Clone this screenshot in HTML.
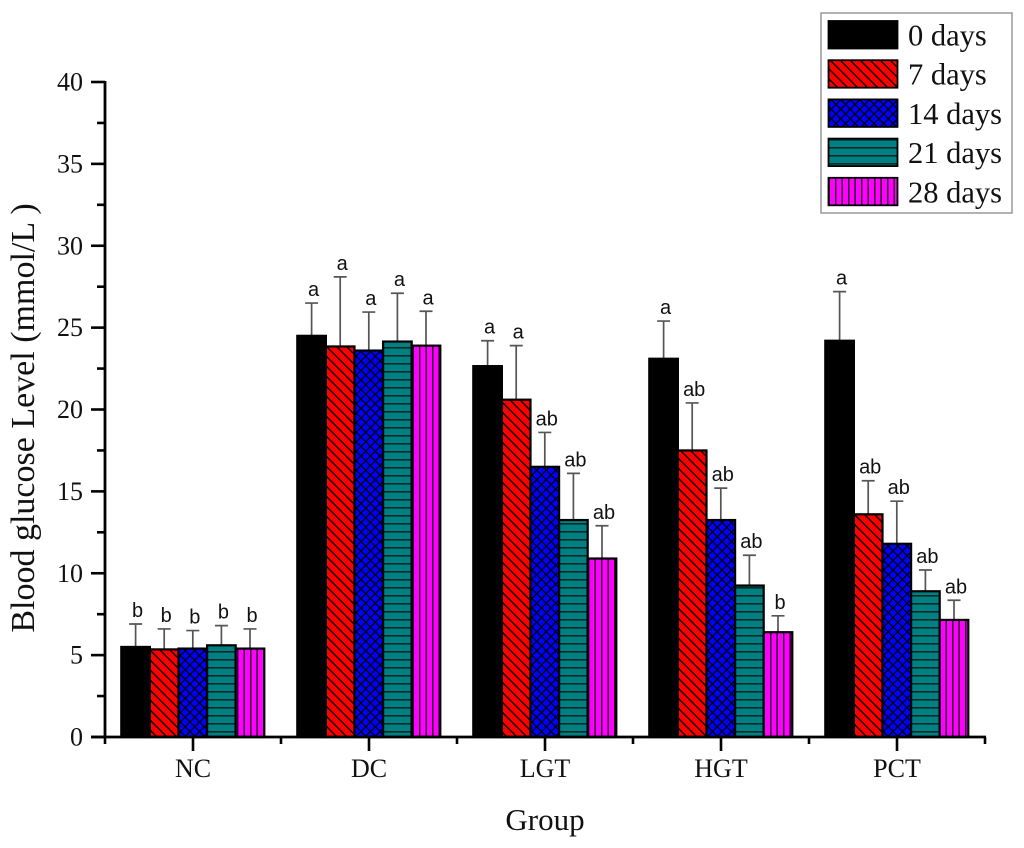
<!DOCTYPE html>
<html>
<head>
<meta charset="utf-8">
<style>
html,body{margin:0;padding:0;background:#fff;}
svg{display:block;}
text{font-family:"Liberation Serif",serif;fill:#111;}
.lab{font-family:"Liberation Sans",sans-serif;font-size:20px;}
</style>
</head>
<body>
<svg id="chart" width="1024" height="848" viewBox="0 0 1024 848" xmlns="http://www.w3.org/2000/svg">
<defs>
<pattern id="p7" patternUnits="userSpaceOnUse" width="10" height="10">
<rect width="10" height="10" fill="#ff0000"/>
<path d="M-2,-2 L12,12 M-2,8 L2,12 M8,-2 L12,2" stroke="#000" stroke-width="1.4"/>
</pattern>
<pattern id="p14" patternUnits="userSpaceOnUse" width="9.5" height="9.5">
<rect width="9.5" height="9.5" fill="#0000ff"/>
<path d="M-2,-2 L11.5,11.5 M-2,7.5 L2,11.5 M7.5,-2 L11.5,2 M11.5,-2 L-2,11.5 M2,-2 L-2,2 M11.5,7.5 L7.5,11.5" stroke="#000" stroke-width="1.3"/>
</pattern>
<pattern id="p21" patternUnits="userSpaceOnUse" width="9" height="8">
<rect width="9" height="8" fill="#008080"/>
<rect y="3" width="9" height="1.6" fill="#06282c"/>
</pattern>
<pattern id="p28" patternUnits="userSpaceOnUse" width="6.5" height="9">
<rect width="6.5" height="9" fill="#ff00ff"/>
<rect x="3" width="1.4" height="9" fill="#1a001a"/>
</pattern>
</defs>
<g id="bars"></g>
<g id="axes"></g>
<g id="legend"></g>
</svg>
<script>
const groups = ['NC', 'DC', 'LGT', 'HGT', 'PCT'];
const seriesNames = ['0 days', '7 days', '14 days', '21 days', '28 days'];
const day0 = [5.5, 24.5, 22.65, 23.1, 24.2];
const day7 = [5.35, 23.85, 20.6, 17.5, 13.6];
const day14 = [5.4, 23.6, 16.5, 13.25, 11.8];
const day21 = [5.6, 24.15, 13.25, 9.25, 8.9];
const day28 = [5.4, 23.9, 10.9, 6.4, 7.15];
const top0 = [6.9, 26.5, 24.2, 25.4, 27.2];
const top7 = [6.6, 28.1, 23.9, 20.4, 15.65];
const top14 = [6.5, 25.95, 18.6, 15.2, 14.4];
const top21 = [6.8, 27.1, 16.1, 11.1, 10.2];
const top28 = [6.6, 26.0, 12.9, 7.4, 8.35];
const letters0 = ['b', 'a', 'a', 'a', 'a'];
const letters7 = ['b', 'a', 'a', 'ab', 'ab'];
const letters14 = ['b', 'a', 'ab', 'ab', 'ab'];
const letters21 = ['b', 'a', 'ab', 'ab', 'ab'];
const letters28 = ['b', 'a', 'ab', 'b', 'ab'];
const yTicks = [0, 5, 10, 15, 20, 25, 30, 35, 40];
const yMinorTicks = [2.5, 7.5, 12.5, 17.5, 22.5, 27.5, 32.5, 37.5];

const values = [day0, day7, day14, day21, day28];
const tops = [top0, top7, top14, top21, top28];
const letters = [letters0, letters7, letters14, letters21, letters28];
const fills = ['#000', 'url(#p7)', 'url(#p14)', 'url(#p21)', 'url(#p28)'];

const NS = 'http://www.w3.org/2000/svg';
const X0 = 105, GROUP_W = 176, BAR_W = 28.6;
const Y0 = 737, PX_PER_UNIT = 16.375;
const yScale = v => Y0 - v * PX_PER_UNIT;
const groupCenter = i => X0 + GROUP_W * (i + 0.5);
const barX = (g, s) => groupCenter(g) - 2.5 * BAR_W + s * BAR_W - 0.2;

function mk(parent, tag, attrs, txt) {
  const el = document.createElementNS(NS, tag);
  for (const k in attrs) el.setAttribute(k, attrs[k]);
  if (txt !== undefined) el.textContent = txt;
  parent.appendChild(el);
  return el;
}
const barsG = document.getElementById('bars');
const axesG = document.getElementById('axes');
const legG = document.getElementById('legend');

groups.forEach((g, gi) => {
  values.forEach((vals, si) => {
    const x = barX(gi, si), yT = yScale(vals[gi]), yE = yScale(tops[si][gi]);
    const cx = x + BAR_W / 2;
    const eb = mk(barsG, 'path', {d: `M${cx},${yT} V${yE} M${cx - 6.5},${yE} H${cx + 6.5}`, stroke: '#555', 'stroke-width': 1.7, fill: 'none'});
    
    
    const r = mk(barsG, 'rect', {x: x, y: yT, width: BAR_W, height: Y0 - yT, fill: fills[si], stroke: '#000', 'stroke-width': 2.2});
    
    
    const t = mk(barsG, 'text', {x: cx + 2, y: yE - 7, 'text-anchor': 'middle', class: 'lab'}, letters[si][gi]);
    
    
  });
});

const yAxis = mk(axesG, 'path', {d: `M${X0},${yScale(40) - 1} V${Y0}`, stroke: '#000', 'stroke-width': 2.8, fill: 'none'});


const xAxis = mk(axesG, 'path', {d: `M${X0 - 14},${Y0} H${X0 + GROUP_W * groups.length + 1}`, stroke: '#000', 'stroke-width': 2.8, fill: 'none'});



yTicks.forEach(v => {
  const y = yScale(v);
  const tk = mk(axesG, 'line', {x1: X0 - 14, x2: X0, y1: y, y2: y, stroke: '#000', 'stroke-width': 2.6});
  
  
  const lb = mk(axesG, 'text', {x: 83, y: y + 8.5, 'text-anchor': 'end', 'font-size': 26}, String(v));
  
  
});
yMinorTicks.forEach(v => {
  const y = yScale(v);
  const tk = mk(axesG, 'line', {x1: X0 - 8, x2: X0, y1: y, y2: y, stroke: '#000', 'stroke-width': 2.6});
  
  
});
groups.forEach((g, i) => {
  const c = groupCenter(i);
  const tk = mk(axesG, 'line', {x1: c, x2: c, y1: Y0, y2: Y0 + 14, stroke: '#000', 'stroke-width': 2.6});
  
  
  const lb = mk(axesG, 'text', {x: c, y: 777, 'text-anchor': 'middle', 'font-size': 26}, g);
  
  
});
for (let i = 0; i <= groups.length; i++) {
  const x = X0 + GROUP_W * i;
  const tk = mk(axesG, 'line', {x1: x, x2: x, y1: Y0, y2: Y0 + 7, stroke: '#000', 'stroke-width': 2.6});
  
  
}
const xt = mk(axesG, 'text', {x: 545, y: 830, 'text-anchor': 'middle', 'font-size': 31}, 'Group');


const yt = mk(axesG, 'text', {x: 0, y: 0, 'text-anchor': 'middle', 'font-size': 34, transform: 'translate(34,418) rotate(-90)'}, 'Blood glucose Level (mmol/L )');



const box = mk(legG, 'rect', {x: 821, y: 13, width: 191, height: 200, fill: '#fff', stroke: '#999', 'stroke-width': 1.5});


const legTop = 21, legStep = 39.2, swH = 27.5;
seriesNames.forEach((n, i) => {
  const y = legTop + i * legStep;
  const sw = mk(legG, 'rect', {x: 828.5, y: y, width: 69, height: swH, fill: fills[i], stroke: '#000', 'stroke-width': 1.8});
  
  
  const t = mk(legG, 'text', {x: 908, y: y + 24.5, 'font-size': 30.5}, n);
  
  
});
</script>
</body>
</html>
